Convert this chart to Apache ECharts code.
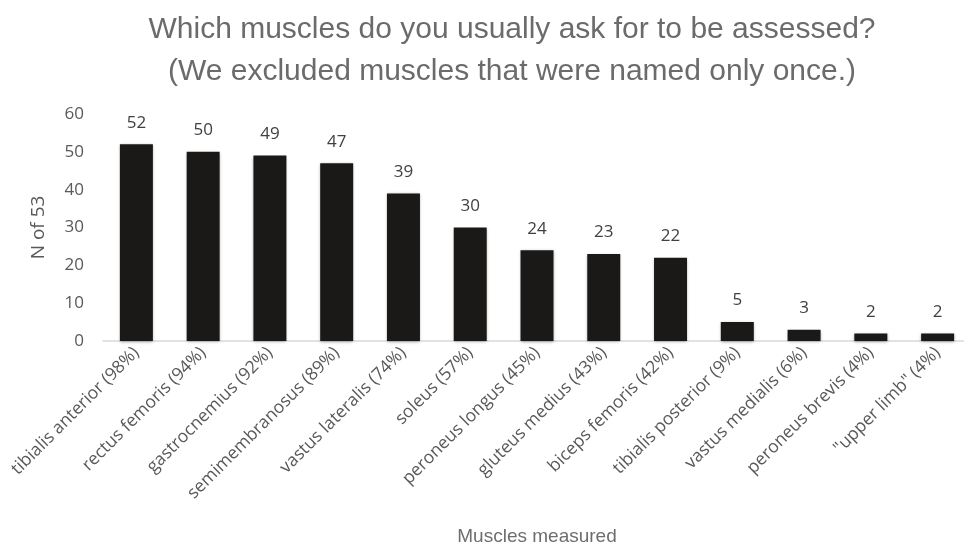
<!DOCTYPE html>
<html><head><meta charset="utf-8">
<script src="https://cdn.jsdelivr.net/npm/echarts@6/dist/echarts.min.js"></script>
<style>html,body{margin:0;padding:0;background:#fff}#c{width:964px;height:547px}</style>
</head><body><div id="c"></div>
<script>
const categories = ["tibialis anterior (98%)","rectus femoris (94%)","gastrocnemius (92%)","semimembranosus (89%)","vastus lateralis (74%)","soleus (57%)","peroneus longus (45%)","gluteus medius (43%)","biceps femoris (42%)","tibialis posterior (9%)","vastus medialis (6%)","peroneus brevis (4%)","\"upper limb\" (4%)"];
const values = [52,50,49,47,39,30,24,23,22,5,3,2,2];
const titleLines = ["Which muscles do you usually ask for to be assessed?","(We excluded muscles that were named only once.)"];
const yAxisName = "N of 53";
const xAxisName = "Muscles measured";

const chart = echarts.init(document.getElementById('c'), null, {renderer:'canvas'});
const axisFont = "Open Sans";
chart.setOption({
  animation:false,
  graphic:[{
    type:'text', x:512, y:51,
    style:{
      text: titleLines.join("\n"),
      textAlign:'center', textVerticalAlign:'middle',
      fontFamily:"Liberation Sans", fontSize:30, fontWeight:'normal', fill:'#6b6b6b', lineHeight:42
    }
  }],
  grid:{left:103, top:114, width:868, height:227, containLabel:false, outerBoundsMode:'none'},
  xAxis:{
    type:'category', data:categories,
    axisLine:{lineStyle:{color:'#d9d9d9', width:1.5}},
    axisTick:{show:false},
    axisLabel:{rotate:45, interval:0, fontFamily:axisFont, fontSize:17.5, color:'#595959', margin:9},
    name:xAxisName, nameLocation:'middle', nameGap:186,
    nameTextStyle:{fontFamily:"Liberation Sans", fontSize:19, color:'#6e6e6e'}
  },
  yAxis:{
    type:'value', min:0, max:60, interval:10,
    splitLine:{show:false},
    axisLine:{show:false}, axisTick:{show:false},
    axisLabel:{fontFamily:axisFont, fontSize:17, color:'#595959', margin:19},
    name:yAxisName, nameLocation:'middle', nameGap:55, nameRotate:90,
    nameTextStyle:{fontFamily:axisFont, fontSize:19, color:'#595959'}
  },
  series:[{
    type:'bar', data:values, barWidth:33,
    itemStyle:{color:'#1b1918', shadowColor:'rgba(0,0,0,0.35)', shadowBlur:3, shadowOffsetX:0, shadowOffsetY:1},
    label:{show:true, position:'top', distance:13, fontFamily:axisFont, fontSize:17, color:'#404040'}
  }]
});
</script></body></html>
